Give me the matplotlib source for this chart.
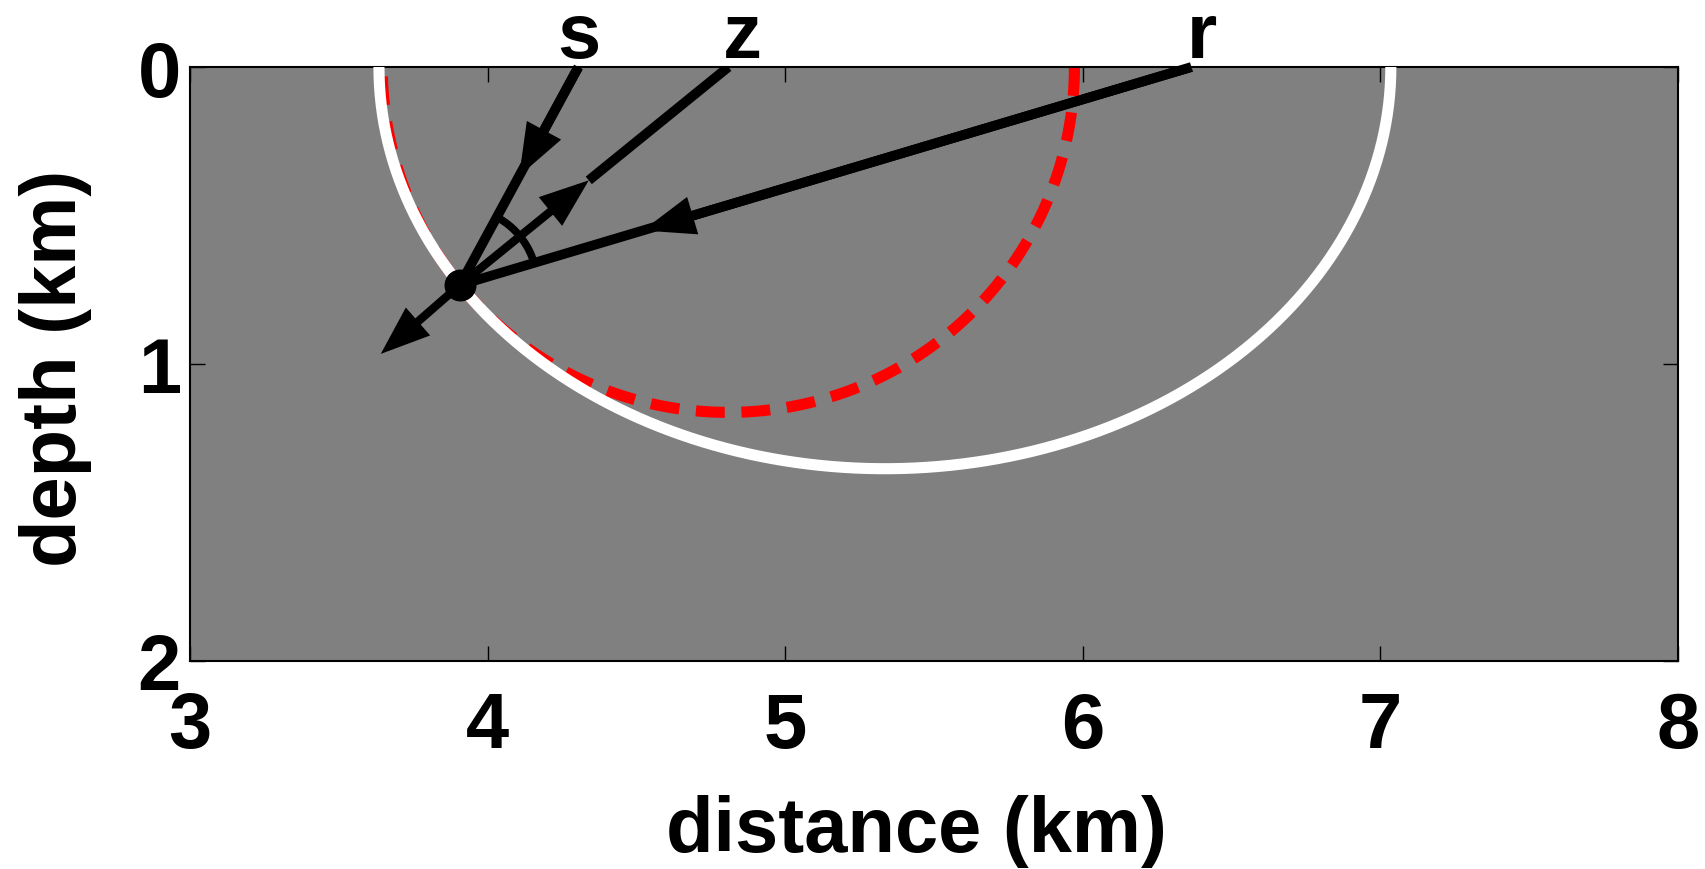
import numpy as np
import matplotlib.pyplot as plt

plt.rcParams['font.family'] = ['Liberation Sans', 'DejaVu Sans']
plt.rcParams['font.weight'] = 'bold'

# geometry (km)
src_x = 4.305          # s
mid_x = 4.809          # z
rec_x = 6.365          # r
pt_x, pt_y = 3.907, 0.734       # scattering point
normal_tip = (3.641, 0.966)     # outward normal arrow tip
head_frac_s = 0.50     # arrowhead position along s -> point
head_frac_z = 0.48     # arrowhead position along point -> z
head_frac_r = 0.75     # arrowhead position along r -> point
arc_radius = 0.26

top_labels = ['s', 'z', 'r']
top_label_x = [4.307, 4.855, 6.40]
xticks = [3, 4, 5, 6, 7, 8]
yticks = [0, 1, 2]

FS = 56

fig = plt.figure(figsize=(17.05, 8.70), dpi=100)
ax = fig.add_axes([190 / 1705, 208 / 870, 1488 / 1705, 594 / 870])
ax.set_facecolor('#808080')

# isochron ellipse (foci s and r, through the point)
d_s = np.hypot(src_x - pt_x, pt_y)
d_r = np.hypot(rec_x - pt_x, pt_y)
a = (d_s + d_r) / 2
c = (rec_x - src_x) / 2
b = np.sqrt(a ** 2 - c ** 2)
t = np.linspace(0, np.pi, 400)
ell_x = (src_x + rec_x) / 2 + a * np.cos(t)
ell_y = b * np.sin(t)

# circle centred on z through the point
R = np.hypot(mid_x - pt_x, pt_y)
circ_x = mid_x + R * np.cos(t)
circ_y = R * np.sin(t)

ax.plot(circ_x, circ_y, color='red', lw=8, linestyle=(0, (2.6, 1.5)), zorder=2)
ax.plot(ell_x, ell_y, color='white', lw=8, zorder=3)

# rays
LW = 7
ax.plot([src_x, pt_x], [0, pt_y], color='k', lw=LW, solid_capstyle='butt', zorder=4)
ax.plot([rec_x, pt_x], [0, pt_y], color='k', lw=LW, solid_capstyle='butt', zorder=4)
tz = (pt_x + head_frac_z * (mid_x - pt_x), pt_y + head_frac_z * (0 - pt_y))
ax.plot([mid_x, tz[0]], [0, tz[1]], color='k', lw=LW, solid_capstyle='butt', zorder=4)

head = '-|>,head_length=24,head_width=9'

def arrow(tail, tip, lw):
    ax.annotate('', xy=tip, xytext=tail,
                arrowprops=dict(arrowstyle=head, color='k', lw=lw, mutation_scale=1,
                                shrinkA=0, shrinkB=0, joinstyle='miter',
                                capstyle='butt'),
                zorder=5)

ts = (src_x + head_frac_s * (pt_x - src_x), head_frac_s * pt_y)
tr = (rec_x + head_frac_r * (pt_x - rec_x), head_frac_r * pt_y)
arrow((src_x, 0), ts, LW)
arrow((rec_x, 0), tr, LW)
arrow((pt_x, pt_y), tz, 6)
arrow((pt_x, pt_y), normal_tip, 6)

# angle arc between incident and scattered rays
ang_s = np.arctan2(-pt_y, src_x - pt_x)
ang_r = np.arctan2(-pt_y, rec_x - pt_x)
ta = np.linspace(ang_s, ang_r, 60)
ax.plot(pt_x + arc_radius * np.cos(ta), pt_y + arc_radius * np.sin(ta),
        color='k', lw=5.5, solid_capstyle='butt', zorder=5)

ax.plot(pt_x, pt_y, 'o', color='k', ms=22, zorder=6)

for lab, lx in zip(top_labels, top_label_x):
    ax.text(lx, -0.034, lab, ha='center', va='baseline', fontsize=FS,
            fontweight='bold', clip_on=False)

ax.set_xlim(3, 8)
ax.set_ylim(2, 0)
ax.set_xticks(xticks)
ax.set_yticks(yticks)
ax.tick_params(direction='in', length=11, width=1, top=True, right=True,
               labelsize=FS)
ax.tick_params(axis='x', pad=21)
ax.tick_params(axis='y', pad=6.5)
for sp in ax.spines.values():
    sp.set_linewidth(1.5)

ax.set_xlabel('distance (km)', fontsize=FS, fontweight='bold')
ax.set_ylabel('depth (km)', fontsize=FS, fontweight='bold')
ax.xaxis.set_label_coords(0.488, -0.224)
ax.yaxis.set_label_coords(-0.0659, 0.495)

fig.savefig('out.png', dpi=100)
